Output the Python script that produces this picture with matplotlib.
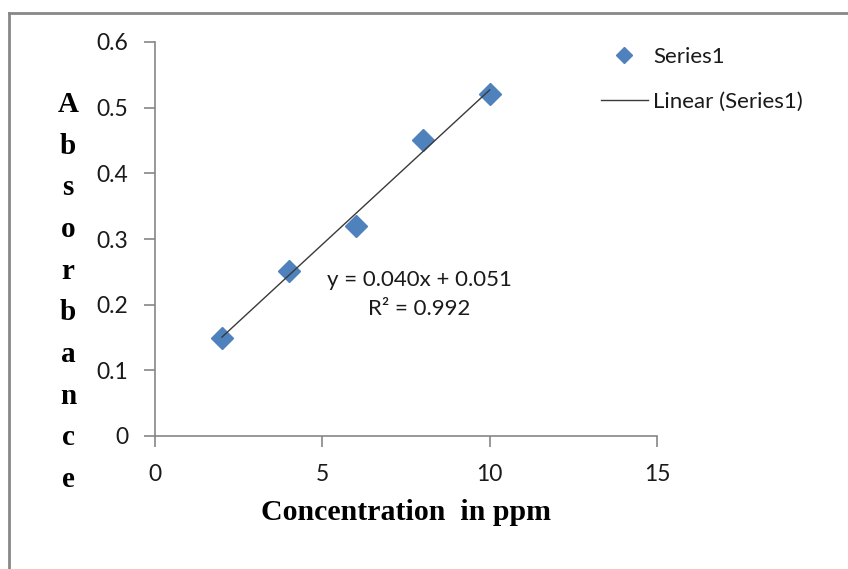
import numpy as np
import matplotlib
matplotlib.use("Agg")
import matplotlib.pyplot as plt
from matplotlib.lines import Line2D

# Data
concentration = [2, 4, 6, 8, 10]
absorbance = [0.150, 0.252, 0.320, 0.451, 0.521]
x_ticks = [0, 5, 10, 15]
y_ticks = [0, 0.1, 0.2, 0.3, 0.4, 0.5, 0.6]
y_tick_labels = ["0", "0.1", "0.2", "0.3", "0.4", "0.5", "0.6"]
series_label = "Series1"
trend_label = "Linear (Series1)"
equation_text = "y = 0.040x + 0.051\nR² = 0.992"
x_label = "Concentration  in ppm"
y_label = "Absorbance"

W, H = 848, 569
fig = plt.figure(figsize=(W / 100, H / 100), dpi=100)
fig.patch.set_facecolor("white")

ax = fig.add_axes([155 / W, 1 - 436 / H, (657 - 155) / W, (436 - 42) / H])
ax.set_xlim(0, 15)
ax.set_ylim(0, 0.6)

tick_font = "Lato"
axis_gray = "#868686"

ax.plot(concentration, absorbance, linestyle="none", marker="D", markersize=11.5,
        color="#4F81BD", markeredgecolor="#4F81BD", label=series_label, zorder=2,
        clip_on=False)

coef = np.polyfit(concentration, absorbance, 1)
xs = np.array([min(concentration), max(concentration)])
ax.plot(xs, np.polyval(coef, xs), color="#3a3a3a", linewidth=1.0,
        label=trend_label, zorder=3)

ax.text(7.89, 0.216, equation_text, ha="center", va="center", fontsize=16,
        family=tick_font, color="#1a1a1a", linespacing=1.55)

for s in ["top", "right"]:
    ax.spines[s].set_visible(False)
for s in ["left", "bottom"]:
    ax.spines[s].set_color(axis_gray)
    ax.spines[s].set_linewidth(1.2)

ax.set_xticks(x_ticks)
ax.set_xticklabels([str(v) for v in x_ticks])
ax.set_yticks(y_ticks)
ax.set_yticklabels(y_tick_labels)
ax.tick_params(axis="both", direction="out", length=8, width=1.2, color=axis_gray,
               labelsize=16.5, labelcolor="#1a1a1a")
ax.tick_params(axis="y", pad=11)
ax.tick_params(axis="x", pad=12)
for lab in ax.get_xticklabels() + ax.get_yticklabels():
    lab.set_family(tick_font)

fig.text(406 / W, 1 - 513 / H, x_label, ha="center", va="center",
         fontsize=21.5, fontweight="bold", family="Liberation Serif")
fig.text(68 / W, 1 - 292 / H, "\n".join(y_label), ha="center", va="center",
         fontsize=21, fontweight="bold", family="Liberation Serif", linespacing=1.70)

leg = ax.legend(loc="upper left", bbox_to_anchor=(590 / W, 1 - 36 / H),
                bbox_transform=fig.transFigure, frameon=False, borderpad=0,
                handlelength=2.1, handletextpad=0.25, labelspacing=1.1,
                markerscale=0.72, prop={"family": tick_font, "size": 16})
for t in leg.get_texts():
    t.set_color("#1a1a1a")

# outer frame (left and top edges visible)
frame_color = "#888888"
fig.add_artist(Line2D([9 / W, 9 / W], [0, 1 - 13 / H], transform=fig.transFigure,
                      color=frame_color, linewidth=2))
fig.add_artist(Line2D([9 / W, 1], [1 - 13 / H, 1 - 13 / H], transform=fig.transFigure,
                      color=frame_color, linewidth=2))

fig.savefig("out.png", dpi=100)
